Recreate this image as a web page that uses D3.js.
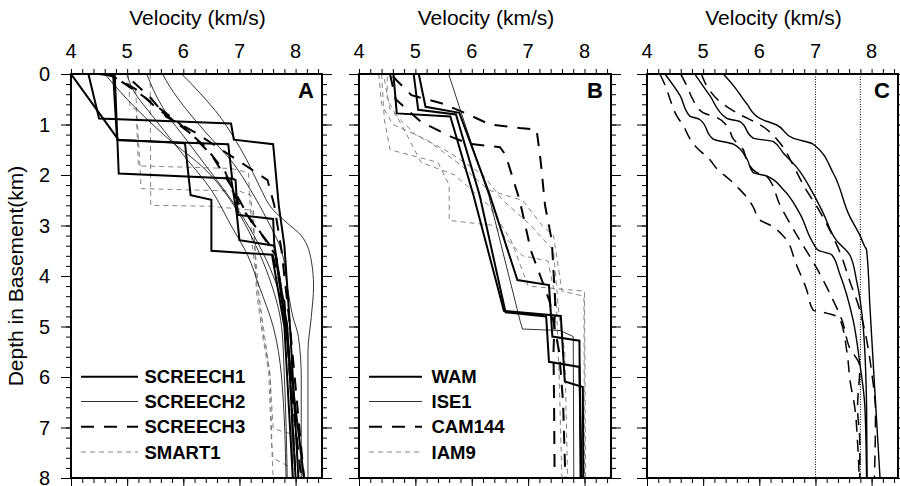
<!DOCTYPE html>
<html>
<head>
<meta charset="utf-8">
<script src="https://d3js.org/d3.v7.min.js"></script>
<style>
  body { margin: 0; background: #fff; }
  text { font-family: "Liberation Sans", Arial, Helvetica, sans-serif; }
</style>
</head>
<body>
<script>
// ---- data: [velocity km/s, depth km] ----
const velTicks = [4, 5, 6, 7, 8];
const depthTicks = [0, 1, 2, 3, 4, 5, 6, 7, 8];
const panelLetters = ['A', 'B', 'C'];
const legendA = ['SCREECH1', 'SCREECH2', 'SCREECH3', 'SMART1'];
const legendB = ['WAM', 'ISE1', 'CAM144', 'IAM9'];
const refVel = [7.0, 7.8];

const screech1 = [
  [[4.31,0],[4.5,0.88],[6.85,0.98],[6.9,1.3],[7.6,1.39],[7.7,2.6],[7.8,3.4],[7.9,5],[8.05,8]],
  [[4.0,0],[4.85,1.31],[6.8,1.39],[6.87,2.07],[6.93,2.1],[6.97,2.79],[7.6,2.87],[7.62,3.38],[7.85,5],[8.0,8]],
  [[4.5,0],[4.78,0.04],[4.85,1.97],[6.85,2.07],[6.95,2.75],[7.0,3.29],[7.62,3.4],[7.82,5],[8.15,8]],
  [[4.75,0],[4.82,1.3],[6.03,1.37],[6.13,2.4],[6.5,2.49],[6.5,3.5],[7.58,3.58],[7.8,5],[7.95,8]]
];
const screech2 = [
  [[5.97,0],[6.3,0.38],[6.65,0.84],[6.89,1.24],[7.13,1.7],[7.36,2.23],[7.6,2.69],[7.85,2.95],[8.1,3.2],[8.28,3.7],[8.32,4.2],[8.28,4.8],[8.22,5.5],[8.22,8]],
  [[5.63,0],[5.76,0.25],[6.06,0.71],[6.41,1.17],[6.89,1.77],[7.2,2.3],[7.5,2.9],[7.75,3.5],[7.85,4.2],[7.95,4.8],[8.05,5.2],[8.1,6],[8.1,8]],
  [[5.35,0],[5.47,0.32],[5.7,0.78],[6.06,1.31],[6.41,1.83],[6.77,2.36],[7.1,2.9],[7.4,3.5],[7.7,4.3],[7.85,5],[7.9,6],[7.95,8]],
  [[4.6,0],[5.0,0.5],[5.7,1.25],[6.4,1.9],[6.9,2.6],[7.25,3.3],[7.55,4.1],[7.75,5],[7.8,6],[7.85,8]],
  [[4.99,0],[5.1,0.3],[5.5,0.9],[6.0,1.6],[6.5,2.3],[6.85,3.0],[7.15,3.6],[7.35,4.2],[7.6,5.0],[7.75,6],[7.83,8]]
];
const screech3 = [
  [[4.6,0],[4.75,0.05],[5.15,0.3],[5.5,0.65],[6.1,1.15],[6.5,1.6],[6.9,2.3],[7.2,2.9],[7.55,3.4],[7.8,4.5],[7.9,6],[8.1,8]],
  [[4.9,0.15],[5.3,0.45],[5.9,0.95],[6.4,1.45],[6.75,1.95],[7.0,2.6],[7.35,3.1],[7.65,3.6],[7.85,5],[8.0,8]],
  [[5.1,0.15],[5.4,0.45],[5.7,0.85],[6.2,1.15],[7.0,1.73],[7.5,2.1],[7.62,2.6],[7.75,3.5],[7.9,5],[8.15,8]]
];
const smart1 = [
  [[5.02,0],[5.05,0.65],[5.16,0.7],[5.2,1.82],[6.85,1.87],[7.16,1.95],[7.22,3.3],[7.33,4.34],[7.42,5.13],[7.54,5.92],[7.6,7.02],[8.07,7.18],[8.1,8]],
  [[5.41,0],[5.42,2.6],[6.5,2.62],[7.25,2.7],[7.3,4.3],[7.4,5.1],[7.52,5.9],[7.57,7.3],[7.6,7.61],[8.13,7.91],[8.13,8]],
  [[5.15,0.3],[5.25,2.27],[7.0,2.32],[7.2,2.4],[7.28,3.5],[7.35,4.4],[7.45,5.2],[7.55,6],[7.58,7.5],[7.6,8]]
];

const wam = [
  [[4.61,0],[4.67,0.78],[5.62,0.84],[6.03,2.4],[6.57,4.69],[7.58,4.79],[7.65,6.09],[7.97,6.2],[7.98,8]],
  [[5.06,0],[5.18,0.65],[5.78,0.77],[6.32,2.4],[6.81,4.08],[7.37,4.18],[7.43,5.2],[7.91,5.28],[7.93,8]],
  [[4.97,0],[5.05,0.71],[5.72,0.8],[6.14,2.4],[6.6,4.72],[7.32,4.8],[7.37,5.7],[7.91,5.8],[7.95,8]]
];
const ise1 = [
  [[5.59,0],[5.8,0.72],[6.3,2.4],[6.86,4.9],[6.9,5.05],[7.57,5.08],[7.8,5.2],[7.81,8]]
];
const cam144 = [
  [[4.6,0.05],[4.93,0.42],[5.46,0.58],[5.9,0.78],[6.32,1.0],[6.85,1.07],[7.15,1.1],[7.22,1.7],[7.3,2.6],[7.42,3.3],[7.48,4.5],[7.45,5.5],[7.46,6.5],[7.47,8]],
  [[4.55,0],[4.65,0.5],[5.1,0.95],[5.65,1.25],[5.95,1.38],[6.5,1.45],[6.6,1.6],[6.85,2.5],[6.95,3.0],[7.05,3.5],[7.2,3.95],[7.38,4.5],[7.55,5.5],[7.62,6.5],[7.66,8]]
];
const iam9 = [
  [[4.4,0],[4.45,0.9],[4.55,1.5],[5.4,1.75],[5.6,2.2],[5.6,2.9],[6.4,3.0],[6.9,3.6],[7.35,3.7],[7.5,4.5],[7.55,6],[7.6,8]],
  [[4.35,0],[4.4,0.6],[4.6,1.0],[5.2,1.3],[5.8,1.8],[6.3,2.3],[6.9,2.5],[7.25,3.0],[7.45,3.2],[7.6,4.3],[7.99,4.4],[8.0,8]],
  [[4.5,0.05],[4.5,0.5],[4.8,1.1],[5.1,1.75],[5.7,2.0],[6.3,2.6],[6.7,3.3],[7.0,4.2],[8.0,4.3],[8.02,8]],
  [[4.45,0.1],[4.55,0.7],[5.0,1.2],[5.6,1.55],[6.2,2.0],[6.55,2.5],[7.05,3.0],[7.45,3.5],[7.55,4.8],[7.65,5.5],[7.7,8]]
];

const avgSolid = [
  [[5.36,0],[5.54,0.23],[5.77,0.58],[6.01,0.88],[6.31,1.01],[6.6,1.27],[6.96,1.39],[7.32,1.97],[7.61,2.82],[7.79,3.19],[7.88,3.42],[7.91,3.48],[7.97,4.61],[8.06,6.32],[8.15,8]],
  [[4.85,0],[5.12,0.43],[5.42,0.88],[5.65,0.94],[5.89,1.27],[6.25,1.34],[6.43,1.57],[6.66,1.84],[6.96,2.37],[7.14,2.76],[7.37,3.29],[7.61,3.58],[7.73,4.08],[7.85,5.0],[7.91,6.59],[7.92,8]],
  [[4.32,0],[4.59,0.43],[4.76,0.83],[4.94,0.9],[5.18,1.29],[5.54,1.39],[5.77,1.66],[5.89,1.95],[6.13,2.02],[6.43,2.29],[6.72,2.76],[6.96,3.35],[7.05,3.49],[7.29,3.58],[7.43,3.95],[7.67,4.87],[7.79,5.73],[7.88,6.59],[7.91,8]]
];
const avgDashed = [
  [[4.97,0],[5.1,0.3],[5.3,0.55],[5.6,0.77],[6.05,1.03],[6.37,1.37],[6.6,1.8],[6.8,2.23],[7.08,2.73],[7.26,3.1],[7.46,3.6],[7.61,4.1],[7.77,4.6],[7.9,5.2],[8.0,5.9],[8.07,6.7],[8.05,8]],
  [[4.6,0],[4.72,0.26],[4.81,0.49],[4.99,0.76],[5.24,0.86],[5.42,1.02],[5.54,1.29],[5.71,1.49],[5.77,1.69],[5.95,1.95],[6.13,2.02],[6.37,2.6],[6.6,3.06],[7.05,3.9],[7.28,4.4],[7.48,4.9],[7.6,5.4],[7.79,5.8],[7.75,6.6],[7.79,7.3],[7.79,8]],
  [[4.23,0],[4.35,0.3],[4.41,0.5],[4.53,0.83],[4.65,1.03],[4.77,1.29],[4.88,1.45],[5.12,1.7],[5.24,1.87],[5.48,2.1],[5.6,2.23],[5.77,2.43],[5.89,2.63],[6.01,2.89],[6.19,2.99],[6.46,3.25],[6.65,3.75],[6.84,4.26],[6.96,4.68],[7.14,4.72],[7.43,4.84],[7.56,5.5],[7.62,6.1],[7.7,6.6],[7.75,7.3],[7.78,8]]
];

// ---- line styles ----
const styles = {
  thick:     { w: 2,   c: '#000', dash: null,    smooth: false },
  thin:      { w: 0.8, c: '#000', dash: null,    smooth: true  },
  thickDash: { w: 2,   c: '#000', dash: '13,10', smooth: false },
  grayDash:  { w: 0.8, c: '#666', dash: '5,4',   smooth: false },
  stepThin:  { w: 0.8, c: '#000', dash: null,    smooth: false },
  cSolid:    { w: 1.4, c: '#000', dash: null,    smooth: true  },
  cDash:     { w: 1.5, c: '#000', dash: '12,8',  smooth: true  }
};

const W = 900, H = 486;
const plotTop = 74, plotBottom = 478;
const panels = [[71, 322], [359, 611], [647, 898]];

const svg = d3.select('body').append('svg')
    .attr('width', W).attr('height', H);

const y = d3.scaleLinear().domain([0, 8]).range([plotTop, plotBottom]);
const minorV = d3.range(0, 23).map(i => 4 + i * 0.2);
const minorD = d3.range(0, 41).map(i => i * 0.2);

function drawPanel(i, groups) {
  const [x0, x1] = panels[i];
  const x = d3.scaleLinear().domain([4, 8.47]).range([x0, x1]);
  const g = svg.append('g');

  g.append('clipPath').attr('id', 'clip' + i)
    .append('rect').attr('x', x0).attr('y', plotTop)
    .attr('width', x1 - x0).attr('height', plotBottom - plotTop);

  const plot = g.append('g').attr('clip-path', `url(#clip${i})`);

  groups.forEach(([profiles, st]) => {
    const s = styles[st];
    const line = d3.line()
        .x(p => x(p[0])).y(p => y(p[1]))
        .curve(s.smooth ? d3.curveMonotoneY : d3.curveLinear);
    plot.selectAll(null).data(profiles).enter().append('path')
      .attr('d', line)
      .attr('fill', 'none')
      .attr('stroke', s.c)
      .attr('stroke-width', s.w)
      .attr('stroke-dasharray', s.dash)
      .attr('stroke-linejoin', 'miter');
  });

  // axes (ticks only, frame drawn separately)
  const addAxis = (axis, tr) => {
    const a = g.append('g').attr('transform', tr).call(axis);
    a.select('.domain').remove();
    return a;
  };
  addAxis(d3.axisTop(x).tickValues(minorV).tickSize(5).tickFormat(''), `translate(0,${plotTop})`);
  addAxis(d3.axisBottom(x).tickValues(minorV).tickSize(5).tickFormat(''), `translate(0,${plotBottom})`);
  addAxis(d3.axisBottom(x).tickValues(velTicks).tickSize(9).tickFormat(''), `translate(0,${plotBottom})`);
  addAxis(d3.axisLeft(y).tickValues(minorD).tickSize(5).tickFormat(''), `translate(${x0},0)`);
  addAxis(d3.axisLeft(y).tickValues(depthTicks).tickSize(10).tickFormat(''), `translate(${x0},0)`);
  addAxis(d3.axisRight(y).tickValues(minorD).tickSize(5).tickFormat(''), `translate(${x1},0)`);
  addAxis(d3.axisRight(y).tickValues(depthTicks).tickSize(10).tickFormat(''), `translate(${x1},0)`);

  g.selectAll('.vlab').data(velTicks).enter().append('text')
    .attr('x', d => x(d)).attr('y', 58)
    .attr('text-anchor', 'middle').attr('font-size', 20)
    .text(d => d);

  g.append('text')
    .attr('x', (x0 + x1) / 2 + 1).attr('y', 25)
    .attr('text-anchor', 'middle').attr('font-size', 21)
    .text('Velocity (km/s)');

  g.append('rect')
    .attr('x', x0).attr('y', plotTop)
    .attr('width', x1 - x0).attr('height', plotBottom - plotTop)
    .attr('fill', 'none').attr('stroke', '#000').attr('stroke-width', 2);

  g.append('text')
    .attr('x', x1 - 8).attr('y', 98)
    .attr('text-anchor', 'end').attr('font-size', 22).attr('font-weight', 'bold')
    .text(panelLetters[i]);

  return { g, x };
}

const pA = drawPanel(0, [[smart1, 'grayDash'], [screech2, 'thin'], [screech3, 'thickDash'], [screech1, 'thick']]);
const pB = drawPanel(1, [[iam9, 'grayDash'], [ise1, 'stepThin'], [cam144, 'thickDash'], [wam, 'thick']]);
const pC = drawPanel(2, [[avgDashed, 'cDash'], [avgSolid, 'cSolid']]);

// reference velocities in panel C
pC.g.selectAll('.ref').data(refVel).enter().append('line')
  .attr('x1', d => pC.x(d)).attr('x2', d => pC.x(d))
  .attr('y1', plotTop).attr('y2', plotBottom)
  .attr('stroke', '#000').attr('stroke-width', 1).attr('stroke-dasharray', '1,1.5');

// depth labels (panel A only)
svg.selectAll('.dlab').data(depthTicks).enter().append('text')
  .attr('x', 50).attr('y', d => y(d) + 7)
  .attr('text-anchor', 'end').attr('font-size', 20)
  .text(d => d);

svg.append('text')
  .attr('transform', `translate(23,${(plotTop + plotBottom) / 2}) rotate(-90)`)
  .attr('text-anchor', 'middle').attr('font-size', 21)
  .text('Depth in Basement(km)');

// legends
function legend(p, names, sts, lx0, lx1, tx) {
  const rows = [376.7, 401.5, 426.7, 452];
  names.forEach((n, k) => {
    const s = styles[sts[k]];
    p.g.append('line')
      .attr('x1', lx0).attr('x2', lx1).attr('y1', rows[k]).attr('y2', rows[k])
      .attr('stroke', s.c).attr('stroke-width', s.w)
      .attr('stroke-dasharray', s.dash);
    p.g.append('text')
      .attr('x', tx).attr('y', rows[k] + 6.5)
      .attr('font-size', 18.5).attr('font-weight', 'bold')
      .text(n);
  });
}
legend(pA, legendA, ['thick', 'thin', 'thickDash', 'grayDash'], 81, 138, 144.5);
legend(pB, legendB, ['thick', 'thin', 'thickDash', 'grayDash'], 369, 422, 431.5);
</script>
</body>
</html>
